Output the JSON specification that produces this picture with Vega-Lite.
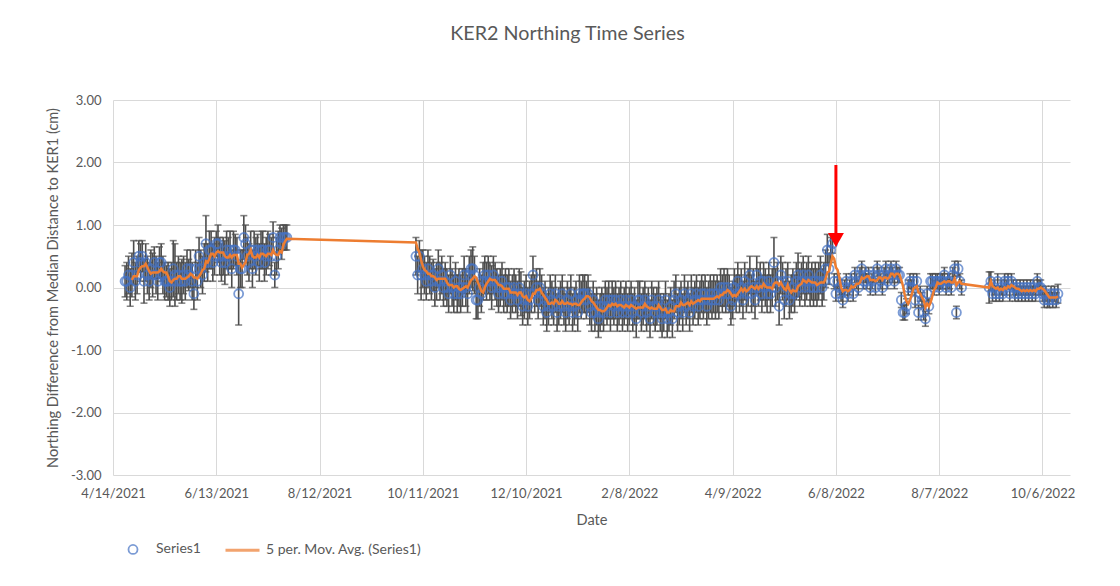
{
"$schema": "https://vega.github.io/schema/vega-lite/v6.json",
"width": 957,
"height": 375,
"autosize": "none",
"padding": {"left": 113, "top": 100, "right": 50, "bottom": 111},
"background": "white",
"title": {"text": "KER2 Northing Time Series", "font": "Lato", "fontSize": 19.7, "fontWeight": "normal", "color": "#595959", "anchor": "middle", "dx": -24, "baseline": "alphabetic", "offset": 34},
"data": {"values": [
{"d":"2021-04-21","v":0.1,"e":0.25},{"d":"2021-04-22","v":0.1,"e":0.3},{"d":"2021-04-23","v":0.2,"e":0.3},{"d":"2021-04-24","v":0.0,"e":0.3},{"d":"2021-04-25","v":0.2,"e":0.35},{"d":"2021-04-26","v":0.4,"e":0.35},{"d":"2021-04-27","v":0.1,"e":0.3},{"d":"2021-04-28","v":0.2,"e":0.3},{"d":"2021-04-29","v":0.5,"e":0.25},{"d":"2021-04-30","v":0.4,"e":0.3},
{"d":"2021-05-01","v":0.5,"e":0.25},{"d":"2021-05-02","v":0.1,"e":0.35},{"d":"2021-05-03","v":0.4,"e":0.3},{"d":"2021-05-04","v":0.2,"e":0.3},{"d":"2021-05-05","v":0.1,"e":0.3},{"d":"2021-05-06","v":0.3,"e":0.3},{"d":"2021-05-07","v":0.2,"e":0.35},{"d":"2021-05-08","v":0.4,"e":0.25},{"d":"2021-05-09","v":0.2,"e":0.3},{"d":"2021-05-10","v":0.1,"e":0.3},
{"d":"2021-05-11","v":0.4,"e":0.25},{"d":"2021-05-12","v":0.4,"e":0.3},{"d":"2021-05-13","v":0.2,"e":0.3},{"d":"2021-05-14","v":0.1,"e":0.3},{"d":"2021-05-15","v":0.1,"e":0.25},{"d":"2021-05-16","v":0.1,"e":0.3},{"d":"2021-05-17","v":0.0,"e":0.3},{"d":"2021-05-18","v":0.1,"e":0.3},{"d":"2021-05-19","v":0.3,"e":0.45},{"d":"2021-05-20","v":0.2,"e":0.5},
{"d":"2021-05-21","v":0.1,"e":0.3},{"d":"2021-05-22","v":0.2,"e":0.3},{"d":"2021-05-23","v":0.1,"e":0.3},{"d":"2021-05-24","v":0.1,"e":0.35},{"d":"2021-05-25","v":0.2,"e":0.3},{"d":"2021-05-26","v":0.1,"e":0.3},{"d":"2021-05-27","v":0.3,"e":0.3},{"d":"2021-05-28","v":0.2,"e":0.25},{"d":"2021-05-29","v":0.3,"e":0.3},{"d":"2021-05-30","v":0.1,"e":0.3},
{"d":"2021-05-31","v":-0.1,"e":0.25},{"d":"2021-06-01","v":0.3,"e":0.3},{"d":"2021-06-02","v":0.1,"e":0.3},{"d":"2021-06-03","v":0.5,"e":0.3},{"d":"2021-06-04","v":0.3,"e":0.3},{"d":"2021-06-05","v":0.2,"e":0.3},{"d":"2021-06-06","v":0.4,"e":0.3},{"d":"2021-06-07","v":0.7,"e":0.45},{"d":"2021-06-08","v":0.4,"e":0.3},{"d":"2021-06-09","v":0.6,"e":0.3},
{"d":"2021-06-10","v":0.6,"e":0.3},{"d":"2021-06-11","v":0.4,"e":0.3},{"d":"2021-06-12","v":0.5,"e":0.3},{"d":"2021-06-13","v":0.7,"e":0.2},{"d":"2021-06-14","v":0.7,"e":0.3},{"d":"2021-06-15","v":0.5,"e":0.3},{"d":"2021-06-16","v":0.4,"e":0.3},{"d":"2021-06-17","v":0.5,"e":0.3},{"d":"2021-06-18","v":0.4,"e":0.35},{"d":"2021-06-19","v":0.6,"e":0.3},
{"d":"2021-06-20","v":0.5,"e":0.3},{"d":"2021-06-21","v":0.6,"e":0.3},{"d":"2021-06-22","v":0.3,"e":0.3},{"d":"2021-06-23","v":0.6,"e":0.3},{"d":"2021-06-24","v":0.6,"e":0.25},{"d":"2021-06-25","v":0.5,"e":0.3},{"d":"2021-06-26","v":-0.1,"e":0.5},{"d":"2021-06-27","v":0.3,"e":0.3},{"d":"2021-06-28","v":0.3,"e":0.3},{"d":"2021-06-29","v":0.8,"e":0.35},
{"d":"2021-06-30","v":0.7,"e":0.3},{"d":"2021-07-01","v":0.5,"e":0.3},{"d":"2021-07-02","v":0.4,"e":0.3},{"d":"2021-07-03","v":0.6,"e":0.3},{"d":"2021-07-04","v":0.3,"e":0.3},{"d":"2021-07-05","v":0.6,"e":0.3},{"d":"2021-07-06","v":0.5,"e":0.3},{"d":"2021-07-07","v":0.6,"e":0.25},{"d":"2021-07-08","v":0.4,"e":0.3},{"d":"2021-07-09","v":0.6,"e":0.3},
{"d":"2021-07-10","v":0.6,"e":0.3},{"d":"2021-07-11","v":0.4,"e":0.3},{"d":"2021-07-12","v":0.5,"e":0.3},{"d":"2021-07-13","v":0.6,"e":0.3},{"d":"2021-07-14","v":0.6,"e":0.25},{"d":"2021-07-15","v":0.5,"e":0.3},{"d":"2021-07-16","v":0.8,"e":0.25},{"d":"2021-07-17","v":0.2,"e":0.2},{"d":"2021-07-18","v":0.5,"e":0.3},{"d":"2021-07-19","v":0.6,"e":0.3},
{"d":"2021-07-20","v":0.8,"e":0.2},{"d":"2021-07-21","v":0.7,"e":0.25},{"d":"2021-07-22","v":0.8,"e":0.2},{"d":"2021-07-23","v":0.8,"e":0.2},{"d":"2021-07-24","v":0.8,"e":0.2},
{"d":"2021-10-07","v":0.5,"e":0.3},{"d":"2021-10-08","v":0.2,"e":0.3},{"d":"2021-10-09","v":0.5,"e":0.25},{"d":"2021-10-10","v":0.2,"e":0.4},{"d":"2021-10-11","v":0.3,"e":0.3},{"d":"2021-10-12","v":0.2,"e":0.3},{"d":"2021-10-13","v":0.1,"e":0.3},{"d":"2021-10-14","v":0.3,"e":0.3},{"d":"2021-10-15","v":0.2,"e":0.3},{"d":"2021-10-16","v":0.1,"e":0.3},
{"d":"2021-10-17","v":0.2,"e":0.25},{"d":"2021-10-18","v":0.0,"e":0.3},{"d":"2021-10-19","v":0.1,"e":0.3},{"d":"2021-10-20","v":0.3,"e":0.3},{"d":"2021-10-21","v":0.1,"e":0.3},{"d":"2021-10-22","v":0.2,"e":0.3},{"d":"2021-10-23","v":0.0,"e":0.3},{"d":"2021-10-24","v":0.1,"e":0.3},{"d":"2021-10-25","v":0.0,"e":0.3},{"d":"2021-10-26","v":-0.1,"e":0.3},
{"d":"2021-10-27","v":0.2,"e":0.3},{"d":"2021-10-28","v":0.0,"e":0.3},{"d":"2021-10-29","v":-0.1,"e":0.3},{"d":"2021-10-30","v":0.1,"e":0.3},{"d":"2021-10-31","v":-0.1,"e":0.3},{"d":"2021-11-01","v":0.0,"e":0.3},{"d":"2021-11-02","v":-0.1,"e":0.3},{"d":"2021-11-03","v":0.0,"e":0.3},{"d":"2021-11-04","v":0.2,"e":0.3},{"d":"2021-11-05","v":0.0,"e":0.3},
{"d":"2021-11-06","v":-0.1,"e":0.3},{"d":"2021-11-07","v":0.2,"e":0.3},{"d":"2021-11-08","v":0.3,"e":0.3},{"d":"2021-11-09","v":0.3,"e":0.35},{"d":"2021-11-10","v":0.2,"e":0.3},{"d":"2021-11-11","v":-0.2,"e":0.3},{"d":"2021-11-12","v":-0.2,"e":0.3},{"d":"2021-11-13","v":0.0,"e":0.3},{"d":"2021-11-14","v":-0.1,"e":0.3},{"d":"2021-11-15","v":0.1,"e":0.3},
{"d":"2021-11-16","v":0.2,"e":0.3},{"d":"2021-11-17","v":0.1,"e":0.3},{"d":"2021-11-18","v":0.2,"e":0.3},{"d":"2021-11-19","v":0.1,"e":0.3},{"d":"2021-11-20","v":0.0,"e":0.35},{"d":"2021-11-21","v":0.2,"e":0.3},{"d":"2021-11-22","v":0.1,"e":0.3},{"d":"2021-11-23","v":0.0,"e":0.3},{"d":"2021-11-24","v":-0.1,"e":0.3},{"d":"2021-11-25","v":0.0,"e":0.3},
{"d":"2021-11-26","v":0.1,"e":0.3},{"d":"2021-11-27","v":-0.1,"e":0.3},{"d":"2021-11-28","v":0.0,"e":0.3},{"d":"2021-11-29","v":-0.1,"e":0.3},{"d":"2021-11-30","v":0.0,"e":0.3},{"d":"2021-12-01","v":-0.2,"e":0.3},{"d":"2021-12-02","v":-0.1,"e":0.3},{"d":"2021-12-03","v":0.0,"e":0.3},{"d":"2021-12-04","v":-0.1,"e":0.3},{"d":"2021-12-05","v":-0.2,"e":0.3},
{"d":"2021-12-06","v":0.0,"e":0.3},{"d":"2021-12-07","v":-0.1,"e":0.35},{"d":"2021-12-08","v":-0.3,"e":0.3},{"d":"2021-12-09","v":-0.2,"e":0.3},{"d":"2021-12-10","v":-0.1,"e":0.3},{"d":"2021-12-11","v":-0.3,"e":0.3},{"d":"2021-12-12","v":-0.2,"e":0.3},{"d":"2021-12-13","v":-0.1,"e":0.3},{"d":"2021-12-14","v":0.2,"e":0.3},{"d":"2021-12-15","v":-0.1,"e":0.3},
{"d":"2021-12-16","v":0.0,"e":0.3},{"d":"2021-12-17","v":-0.2,"e":0.3},{"d":"2021-12-18","v":0.0,"e":0.3},{"d":"2021-12-19","v":-0.1,"e":0.3},{"d":"2021-12-20","v":-0.3,"e":0.3},{"d":"2021-12-21","v":-0.2,"e":0.3},{"d":"2021-12-22","v":-0.4,"e":0.3},{"d":"2021-12-23","v":-0.3,"e":0.3},{"d":"2021-12-24","v":-0.1,"e":0.3},{"d":"2021-12-25","v":-0.2,"e":0.3},
{"d":"2021-12-26","v":-0.3,"e":0.3},{"d":"2021-12-27","v":-0.1,"e":0.3},{"d":"2021-12-28","v":-0.4,"e":0.3},{"d":"2021-12-29","v":-0.3,"e":0.3},{"d":"2021-12-30","v":-0.2,"e":0.3},{"d":"2021-12-31","v":-0.1,"e":0.3},{"d":"2022-01-01","v":-0.3,"e":0.3},{"d":"2022-01-02","v":-0.4,"e":0.3},{"d":"2022-01-03","v":-0.2,"e":0.3},{"d":"2022-01-04","v":-0.3,"e":0.3},
{"d":"2022-01-05","v":-0.1,"e":0.3},{"d":"2022-01-06","v":-0.4,"e":0.3},{"d":"2022-01-07","v":-0.3,"e":0.3},{"d":"2022-01-08","v":-0.2,"e":0.3},{"d":"2022-01-09","v":-0.4,"e":0.3},{"d":"2022-01-10","v":-0.1,"e":0.3},{"d":"2022-01-11","v":-0.2,"e":0.3},{"d":"2022-01-12","v":-0.1,"e":0.3},{"d":"2022-01-13","v":-0.1,"e":0.3},{"d":"2022-01-14","v":-0.2,"e":0.3},
{"d":"2022-01-15","v":-0.1,"e":0.3},{"d":"2022-01-16","v":-0.3,"e":0.3},{"d":"2022-01-17","v":-0.4,"e":0.3},{"d":"2022-01-18","v":-0.2,"e":0.3},{"d":"2022-01-19","v":-0.4,"e":0.3},{"d":"2022-01-20","v":-0.3,"e":0.3},{"d":"2022-01-21","v":-0.5,"e":0.3},{"d":"2022-01-22","v":-0.4,"e":0.3},{"d":"2022-01-23","v":-0.3,"e":0.3},{"d":"2022-01-24","v":-0.4,"e":0.3},
{"d":"2022-01-25","v":-0.2,"e":0.3},{"d":"2022-01-26","v":-0.3,"e":0.3},{"d":"2022-01-27","v":-0.2,"e":0.3},{"d":"2022-01-28","v":-0.4,"e":0.3},{"d":"2022-01-29","v":-0.2,"e":0.3},{"d":"2022-01-30","v":-0.3,"e":0.3},{"d":"2022-01-31","v":-0.2,"e":0.3},{"d":"2022-02-01","v":-0.4,"e":0.3},{"d":"2022-02-02","v":-0.3,"e":0.3},{"d":"2022-02-03","v":-0.2,"e":0.3},
{"d":"2022-02-04","v":-0.4,"e":0.3},{"d":"2022-02-05","v":-0.3,"e":0.3},{"d":"2022-02-06","v":-0.2,"e":0.3},{"d":"2022-02-07","v":-0.4,"e":0.3},{"d":"2022-02-08","v":-0.3,"e":0.3},{"d":"2022-02-09","v":-0.2,"e":0.3},{"d":"2022-02-10","v":-0.4,"e":0.3},{"d":"2022-02-11","v":-0.3,"e":0.3},{"d":"2022-02-12","v":-0.5,"e":0.3},{"d":"2022-02-13","v":-0.2,"e":0.3},
{"d":"2022-02-14","v":-0.2,"e":0.3},{"d":"2022-02-15","v":-0.4,"e":0.3},{"d":"2022-02-16","v":-0.3,"e":0.3},{"d":"2022-02-17","v":-0.2,"e":0.3},{"d":"2022-02-18","v":-0.4,"e":0.3},{"d":"2022-02-19","v":-0.3,"e":0.3},{"d":"2022-02-20","v":-0.5,"e":0.3},{"d":"2022-02-21","v":-0.2,"e":0.3},{"d":"2022-02-22","v":-0.3,"e":0.3},{"d":"2022-02-23","v":-0.4,"e":0.3},
{"d":"2022-02-24","v":-0.3,"e":0.3},{"d":"2022-02-25","v":-0.2,"e":0.3},{"d":"2022-02-26","v":-0.4,"e":0.3},{"d":"2022-02-27","v":-0.5,"e":0.3},{"d":"2022-02-28","v":-0.4,"e":0.3},{"d":"2022-03-01","v":-0.2,"e":0.3},{"d":"2022-03-02","v":-0.5,"e":0.3},{"d":"2022-03-03","v":-0.4,"e":0.3},{"d":"2022-03-04","v":-0.3,"e":0.3},{"d":"2022-03-05","v":-0.5,"e":0.3},
{"d":"2022-03-06","v":-0.2,"e":0.3},{"d":"2022-03-07","v":-0.1,"e":0.3},{"d":"2022-03-08","v":-0.4,"e":0.3},{"d":"2022-03-09","v":-0.3,"e":0.3},{"d":"2022-03-10","v":-0.2,"e":0.3},{"d":"2022-03-11","v":-0.4,"e":0.3},{"d":"2022-03-12","v":-0.1,"e":0.3},{"d":"2022-03-13","v":-0.3,"e":0.3},{"d":"2022-03-14","v":-0.2,"e":0.3},{"d":"2022-03-15","v":-0.4,"e":0.3},
{"d":"2022-03-16","v":-0.1,"e":0.3},{"d":"2022-03-17","v":-0.3,"e":0.3},{"d":"2022-03-18","v":-0.2,"e":0.3},{"d":"2022-03-19","v":-0.1,"e":0.3},{"d":"2022-03-20","v":-0.3,"e":0.3},{"d":"2022-03-21","v":-0.2,"e":0.3},{"d":"2022-03-22","v":-0.1,"e":0.3},{"d":"2022-03-23","v":-0.2,"e":0.3},{"d":"2022-03-24","v":-0.1,"e":0.3},{"d":"2022-03-25","v":-0.3,"e":0.3},
{"d":"2022-03-26","v":-0.2,"e":0.3},{"d":"2022-03-27","v":-0.1,"e":0.3},{"d":"2022-03-28","v":-0.2,"e":0.3},{"d":"2022-03-29","v":-0.1,"e":0.3},{"d":"2022-03-30","v":-0.2,"e":0.3},{"d":"2022-03-31","v":-0.1,"e":0.3},{"d":"2022-04-01","v":-0.2,"e":0.3},{"d":"2022-04-02","v":0.0,"e":0.3},{"d":"2022-04-03","v":-0.1,"e":0.3},{"d":"2022-04-04","v":0.0,"e":0.3},
{"d":"2022-04-05","v":-0.1,"e":0.3},{"d":"2022-04-06","v":0.0,"e":0.3},{"d":"2022-04-07","v":-0.1,"e":0.3},{"d":"2022-04-08","v":-0.3,"e":0.3},{"d":"2022-04-09","v":-0.2,"e":0.3},{"d":"2022-04-10","v":0.0,"e":0.3},{"d":"2022-04-11","v":-0.1,"e":0.3},{"d":"2022-04-12","v":0.1,"e":0.3},{"d":"2022-04-13","v":-0.1,"e":0.3},{"d":"2022-04-14","v":0.0,"e":0.3},
{"d":"2022-04-15","v":-0.2,"e":0.3},{"d":"2022-04-16","v":0.1,"e":0.3},{"d":"2022-04-17","v":-0.1,"e":0.3},{"d":"2022-04-18","v":0.0,"e":0.3},{"d":"2022-04-19","v":0.2,"e":0.3},{"d":"2022-04-20","v":-0.1,"e":0.3},{"d":"2022-04-21","v":0.0,"e":0.3},{"d":"2022-04-22","v":-0.2,"e":0.3},{"d":"2022-04-23","v":0.2,"e":0.3},{"d":"2022-04-24","v":0.0,"e":0.3},
{"d":"2022-04-25","v":0.1,"e":0.3},{"d":"2022-04-26","v":-0.1,"e":0.3},{"d":"2022-04-27","v":0.1,"e":0.3},{"d":"2022-04-28","v":0.0,"e":0.3},{"d":"2022-04-29","v":-0.1,"e":0.3},{"d":"2022-04-30","v":0.1,"e":0.3},{"d":"2022-05-01","v":-0.1,"e":0.3},{"d":"2022-05-02","v":0.0,"e":0.3},{"d":"2022-05-03","v":0.4,"e":0.4},{"d":"2022-05-04","v":0.0,"e":0.3},
{"d":"2022-05-05","v":0.1,"e":0.3},{"d":"2022-05-06","v":-0.3,"e":0.3},{"d":"2022-05-07","v":0.2,"e":0.3},{"d":"2022-05-08","v":0.1,"e":0.3},{"d":"2022-05-09","v":-0.2,"e":0.3},{"d":"2022-05-10","v":0.0,"e":0.3},{"d":"2022-05-11","v":0.1,"e":0.3},{"d":"2022-05-12","v":-0.2,"e":0.3},{"d":"2022-05-13","v":-0.1,"e":0.3},{"d":"2022-05-14","v":0.0,"e":0.3},
{"d":"2022-05-15","v":-0.1,"e":0.3},{"d":"2022-05-16","v":0.1,"e":0.3},{"d":"2022-05-17","v":0.2,"e":0.35},{"d":"2022-05-18","v":0.0,"e":0.3},{"d":"2022-05-19","v":0.1,"e":0.3},{"d":"2022-05-20","v":0.2,"e":0.3},{"d":"2022-05-21","v":0.0,"e":0.3},{"d":"2022-05-22","v":0.1,"e":0.3},{"d":"2022-05-23","v":0.2,"e":0.3},{"d":"2022-05-24","v":0.0,"e":0.3},
{"d":"2022-05-25","v":0.1,"e":0.3},{"d":"2022-05-26","v":0.0,"e":0.3},{"d":"2022-05-27","v":0.1,"e":0.3},{"d":"2022-05-28","v":0.0,"e":0.3},{"d":"2022-05-29","v":0.1,"e":0.3},{"d":"2022-05-30","v":0.2,"e":0.3},{"d":"2022-05-31","v":0.0,"e":0.3},{"d":"2022-06-01","v":0.1,"e":0.3},{"d":"2022-06-02","v":0.3,"e":0.3},{"d":"2022-06-03","v":0.6,"e":0.25},
{"d":"2022-06-04","v":0.3,"e":0.25},{"d":"2022-06-05","v":0.6,"e":0.2},{"d":"2022-06-06","v":0.7,"e":0.15},{"d":"2022-06-07","v":0.1,"e":0.12},{"d":"2022-06-08","v":-0.1,"e":0.12},{"d":"2022-06-09","v":0.1,"e":0.12},{"d":"2022-06-10","v":0.0,"e":0.12},{"d":"2022-06-11","v":-0.1,"e":0.12},{"d":"2022-06-12","v":-0.2,"e":0.12},{"d":"2022-06-13","v":0.0,"e":0.12},
{"d":"2022-06-14","v":0.1,"e":0.12},{"d":"2022-06-15","v":-0.1,"e":0.12},{"d":"2022-06-16","v":0.0,"e":0.12},{"d":"2022-06-17","v":0.1,"e":0.12},{"d":"2022-06-18","v":-0.1,"e":0.12},{"d":"2022-06-19","v":0.2,"e":0.12},{"d":"2022-06-20","v":0.1,"e":0.12},{"d":"2022-06-21","v":0.0,"e":0.12},{"d":"2022-06-22","v":0.2,"e":0.12},{"d":"2022-06-23","v":0.3,"e":0.12},
{"d":"2022-06-24","v":0.1,"e":0.12},{"d":"2022-06-25","v":0.2,"e":0.12},{"d":"2022-06-26","v":0.1,"e":0.12},{"d":"2022-06-27","v":0.2,"e":0.12},{"d":"2022-06-28","v":0.0,"e":0.12},{"d":"2022-06-29","v":0.1,"e":0.12},{"d":"2022-06-30","v":0.2,"e":0.12},{"d":"2022-07-01","v":0.0,"e":0.12},{"d":"2022-07-02","v":0.3,"e":0.12},{"d":"2022-07-03","v":0.2,"e":0.12},
{"d":"2022-07-04","v":0.1,"e":0.12},{"d":"2022-07-05","v":0.0,"e":0.12},{"d":"2022-07-06","v":0.2,"e":0.12},{"d":"2022-07-07","v":0.3,"e":0.12},{"d":"2022-07-08","v":0.1,"e":0.12},{"d":"2022-07-09","v":0.2,"e":0.12},{"d":"2022-07-10","v":0.3,"e":0.12},{"d":"2022-07-11","v":0.2,"e":0.12},{"d":"2022-07-12","v":0.1,"e":0.12},{"d":"2022-07-13","v":0.3,"e":0.12},
{"d":"2022-07-14","v":0.2,"e":0.12},{"d":"2022-07-15","v":0.2,"e":0.12},{"d":"2022-07-16","v":-0.2,"e":0.12},{"d":"2022-07-17","v":-0.4,"e":0.12},{"d":"2022-07-18","v":-0.4,"e":0.12},{"d":"2022-07-19","v":-0.3,"e":0.12},{"d":"2022-07-20","v":0.0,"e":0.12},{"d":"2022-07-21","v":0.1,"e":0.12},{"d":"2022-07-22","v":0.0,"e":0.12},{"d":"2022-07-23","v":0.1,"e":0.12},
{"d":"2022-07-24","v":-0.2,"e":0.12},{"d":"2022-07-25","v":0.1,"e":0.12},{"d":"2022-07-26","v":-0.4,"e":0.12},{"d":"2022-07-27","v":-0.1,"e":0.12},{"d":"2022-07-28","v":-0.2,"e":0.12},{"d":"2022-07-29","v":-0.4,"e":0.12},{"d":"2022-07-30","v":-0.5,"e":0.12},{"d":"2022-07-31","v":-0.1,"e":0.12},{"d":"2022-08-01","v":-0.3,"e":0.12},{"d":"2022-08-02","v":0.1,"e":0.12},
{"d":"2022-08-03","v":0.1,"e":0.12},{"d":"2022-08-04","v":0.0,"e":0.12},{"d":"2022-08-05","v":0.1,"e":0.12},{"d":"2022-08-06","v":0.1,"e":0.12},{"d":"2022-08-07","v":0.0,"e":0.12},{"d":"2022-08-08","v":0.1,"e":0.12},{"d":"2022-08-09","v":0.1,"e":0.12},{"d":"2022-08-10","v":0.2,"e":0.12},{"d":"2022-08-11","v":0.0,"e":0.12},{"d":"2022-08-12","v":0.1,"e":0.12},
{"d":"2022-08-13","v":0.1,"e":0.12},{"d":"2022-08-14","v":0.0,"e":0.12},{"d":"2022-08-15","v":0.2,"e":0.12},{"d":"2022-08-16","v":0.3,"e":0.12},{"d":"2022-08-17","v":-0.4,"e":0.1},{"d":"2022-08-18","v":0.3,"e":0.12},{"d":"2022-08-19","v":0.1,"e":0.12},{"d":"2022-08-20","v":0.0,"e":0.12},
{"d":"2022-09-05","v":0.0,"e":0.25},{"d":"2022-09-06","v":0.1,"e":0.15},{"d":"2022-09-07","v":-0.1,"e":0.12},{"d":"2022-09-08","v":0.0,"e":0.12},{"d":"2022-09-09","v":-0.1,"e":0.12},{"d":"2022-09-10","v":0.1,"e":0.12},{"d":"2022-09-11","v":-0.1,"e":0.12},{"d":"2022-09-12","v":0.0,"e":0.12},{"d":"2022-09-13","v":-0.1,"e":0.12},{"d":"2022-09-14","v":0.1,"e":0.12},
{"d":"2022-09-15","v":0.0,"e":0.12},{"d":"2022-09-16","v":0.1,"e":0.12},{"d":"2022-09-17","v":-0.1,"e":0.12},{"d":"2022-09-18","v":0.1,"e":0.12},{"d":"2022-09-19","v":0.0,"e":0.12},{"d":"2022-09-20","v":-0.1,"e":0.12},{"d":"2022-09-21","v":0.0,"e":0.12},{"d":"2022-09-22","v":-0.1,"e":0.12},{"d":"2022-09-23","v":0.0,"e":0.12},{"d":"2022-09-24","v":-0.1,"e":0.12},
{"d":"2022-09-25","v":0.0,"e":0.12},{"d":"2022-09-26","v":-0.1,"e":0.12},{"d":"2022-09-27","v":0.0,"e":0.12},{"d":"2022-09-28","v":-0.1,"e":0.12},{"d":"2022-09-29","v":0.0,"e":0.12},{"d":"2022-09-30","v":-0.1,"e":0.12},{"d":"2022-10-01","v":0.0,"e":0.12},{"d":"2022-10-02","v":-0.1,"e":0.12},{"d":"2022-10-03","v":0.1,"e":0.12},{"d":"2022-10-04","v":0.0,"e":0.12},
{"d":"2022-10-05","v":0.0,"e":0.12},{"d":"2022-10-06","v":-0.1,"e":0.12},{"d":"2022-10-07","v":-0.2,"e":0.12},{"d":"2022-10-08","v":-0.1,"e":0.12},{"d":"2022-10-09","v":-0.2,"e":0.12},{"d":"2022-10-10","v":-0.2,"e":0.12},{"d":"2022-10-11","v":-0.1,"e":0.12},{"d":"2022-10-12","v":-0.2,"e":0.12},{"d":"2022-10-13","v":-0.1,"e":0.12},{"d":"2022-10-14","v":-0.2,"e":0.12},
{"d":"2022-10-15","v":-0.1,"e":0.15}
]},
"encoding": {
  "x": {"field": "d", "type": "temporal", "title": "Date",
    "scale": {"type": "utc", "domain": [{"year": 2021, "month": 4, "date": 14, "utc": true}, {"year": 2022, "month": 10, "date": 22, "utc": true}]},
    "axis": {"values": [
      {"year": 2021, "month": 4, "date": 14, "utc": true},
      {"year": 2021, "month": 6, "date": 13, "utc": true},
      {"year": 2021, "month": 8, "date": 12, "utc": true},
      {"year": 2021, "month": 10, "date": 11, "utc": true},
      {"year": 2021, "month": 12, "date": 10, "utc": true},
      {"year": 2022, "month": 2, "date": 8, "utc": true},
      {"year": 2022, "month": 4, "date": 9, "utc": true},
      {"year": 2022, "month": 6, "date": 8, "utc": true},
      {"year": 2022, "month": 8, "date": 7, "utc": true},
      {"year": 2022, "month": 10, "date": 6, "utc": true}],
      "labelExpr": "utcFormat(datum.value, '%-m/%-d/%Y')", "labelPadding": 12, "titlePadding": 12, "labelFlush": false, "labelOverlap": false}}
},
"layer": [
  {"mark": {"type": "errorbar", "ticks": true, "color": "#4D4D4D", "thickness": 1.6, "size": 7},
   "encoding": {
     "y": {"field": "v", "type": "quantitative", "title": "Northing Difference from Median Distance to KER1 (cm)",
       "scale": {"domain": [-3, 3], "nice": false},
       "axis": {"values": [-3, -2, -1, 0, 1, 2, 3], "labelExpr": "replace(format(datum.value, '.2f'), '\u2212', '-')", "labelPadding": 12, "titlePadding": 10}},
     "yError": {"field": "e"}}},
  {"mark": {"type": "point", "filled": false, "size": 1156},
   "encoding": {
     "y": {"field": "v", "type": "quantitative", "title": "Northing Difference from Median Distance to KER1 (cm)", "scale": {"domain": [-3, 3], "nice": false}},
     "color": {"datum": "Series1", "type": "nominal",
       "scale": {"domain": ["Series1", "5 per. Mov. Avg. (Series1)"], "range": ["#4472C4", "#ED7D31"]},
       "legend": {"title": null, "orient": "none", "direction": "horizontal", "legendX": 2, "legendY": 431, "symbolSize": 1156, "columnPadding": 18, "labelOffset": 5, "labelLimit": 300, "labelFont": "Lato", "labelFontSize": 14, "labelColor": "#595959"}},
     "shape": {"datum": "Series1", "type": "nominal",
       "scale": {"domain": ["Series1", "5 per. Mov. Avg. (Series1)"], "range": ["M-0.265,0A0.265,0.265,0,1,1,0.265,0A0.265,0.265,0,1,1,-0.265,0Z", "stroke"]},
       "legend": {"title": null, "orient": "none", "direction": "horizontal", "legendX": 2, "legendY": 431, "symbolSize": 1156, "columnPadding": 18, "labelOffset": 5, "labelLimit": 300, "labelFont": "Lato", "labelFontSize": 14, "labelColor": "#595959"}},
     "strokeWidth": {"datum": "Series1", "type": "nominal",
       "scale": {"type": "ordinal", "domain": ["Series1", "5 per. Mov. Avg. (Series1)"], "range": [1.8, 3]},
       "legend": {"title": null, "orient": "none", "direction": "horizontal", "legendX": 2, "legendY": 431, "symbolSize": 1156, "columnPadding": 18, "labelOffset": 5, "labelLimit": 300, "labelFont": "Lato", "labelFontSize": 14, "labelColor": "#595959"}}}},
  {"transform": [
     {"window": [{"op": "mean", "field": "v", "as": "ma"}, {"op": "count", "as": "n"}], "frame": [-4, 0], "sort": [{"field": "d"}]},
     {"filter": "datum.n >= 5"}],
   "mark": {"type": "line", "strokeWidth": 2.5, "interpolate": "linear"},
   "encoding": {
     "y": {"field": "ma", "type": "quantitative", "title": "Northing Difference from Median Distance to KER1 (cm)", "scale": {"domain": [-3, 3], "nice": false}},
     "color": {"datum": "5 per. Mov. Avg. (Series1)", "type": "nominal"}}},
  {"data": {"values": [{"d": "2022-06-08", "top": 1.96, "bottom": 0.84, "tip": 0.76}]},
   "layer": [
     {"mark": {"type": "rule", "color": "#FF0000", "strokeWidth": 3},
      "encoding": {
        "y": {"field": "top", "type": "quantitative", "title": "Northing Difference from Median Distance to KER1 (cm)", "scale": {"domain": [-3, 3], "nice": false}},
        "y2": {"field": "bottom"}}},
     {"mark": {"type": "point", "shape": "triangle-down", "filled": true, "color": "#FF0000", "size": 256, "opacity": 1, "strokeWidth": 0},
      "encoding": {
        "y": {"field": "tip", "type": "quantitative", "title": "Northing Difference from Median Distance to KER1 (cm)", "scale": {"domain": [-3, 3], "nice": false}}}}
   ]}
],
"config": {
  "font": "Lato",
  "view": {"stroke": null},
  "axis": {"labelFont": "Lato", "labelFontSize": 13, "labelColor": "#595959", "titleFont": "Lato", "titleFontSize": 14.6, "titleFontWeight": "normal", "titleColor": "#595959", "gridColor": "#D9D9D9", "gridWidth": 1, "grid": true, "domain": false, "ticks": false}
}
}
